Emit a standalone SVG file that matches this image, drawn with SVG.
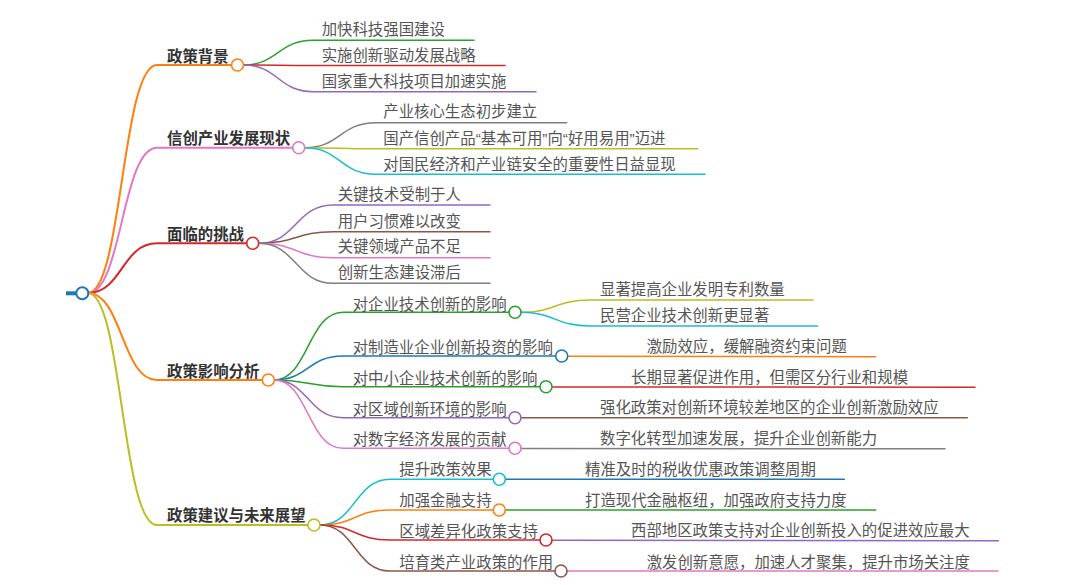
<svg xmlns="http://www.w3.org/2000/svg" width="1080" height="585" viewBox="0 0 1080 585">
<style>
.c{fill:none;stroke-linecap:round}
.l1{stroke-width:2}
.l2{stroke-width:1.5}
.n{fill:#fff;stroke-width:1.6}
.t1{font-family:"Liberation Sans","Noto Sans CJK SC",sans-serif;font-size:15.4px;font-weight:bold;fill:#333}
.t2{font-family:"Liberation Sans","Noto Sans CJK SC",sans-serif;font-size:15.4px;fill:#555}
</style>
<rect width="1080" height="585" fill="#fff"/>
<g id="connectors">
<path class="c l1" stroke="#ff7f0e" d="M88,293 C122,293 122,65 157,65 L231.5,65"/>
<path class="c l1" stroke="#e377c2" d="M88,293 C122,293 122,147.7 157,147.7 L292.7,147.7"/>
<path class="c l1" stroke="#d62728" d="M88,293 C122,293 122,243.3 157,243.3 L246.7,243.3"/>
<path class="c l1" stroke="#ff7f0e" d="M88,293 C122,293 122,380 157,380 L262.3,380"/>
<path class="c l1" stroke="#bcbd22" d="M88,293 C122,293 122,525 157,525 L308,525"/>
<path class="c l2" stroke="#2ca02c" d="M243.5,65 C278,65 278,40.3 313,40.3 L474,40.3"/>
<path class="c l2" stroke="#d62728" d="M243.5,65 C278,65 278,65.5 313,65.5 L505,65.5"/>
<path class="c l2" stroke="#9467bd" d="M243.5,65 C278,65 278,91.7 313,91.7 L536,91.7"/>
<path class="c l2" stroke="#7f7f7f" d="M304.7,147.7 C340,147.7 340,122.7 376,122.7 L566.7,122.7"/>
<path class="c l2" stroke="#bcbd22" d="M304.7,147.7 C340,147.7 340,148.7 376,148.7 L697.7,148.7"/>
<path class="c l2" stroke="#17becf" d="M304.7,147.7 C340,147.7 340,174.3 376,174.3 L705,174.3"/>
<path class="c l2" stroke="#9467bd" d="M258.7,243.3 C296,243.3 296,205 333,205 L490,205"/>
<path class="c l2" stroke="#8c564b" d="M258.7,243.3 C296,243.3 296,231.7 333,231.7 L490,231.7"/>
<path class="c l2" stroke="#e377c2" d="M258.7,243.3 C296,243.3 296,257.7 333,257.7 L490,257.7"/>
<path class="c l2" stroke="#7f7f7f" d="M258.7,243.3 C296,243.3 296,283.3 333,283.3 L490,283.3"/>
<path class="c l2" stroke="#2ca02c" d="M274.3,380 C308,380 308,312.3 343,312.3 L509,312.3"/>
<path class="c l2" stroke="#1f77b4" d="M274.3,380 C308,380 308,356 343,356 L555.7,356"/>
<path class="c l2" stroke="#2ca02c" d="M274.3,380 C308,380 308,386.7 343,386.7 L540,386.7"/>
<path class="c l2" stroke="#9467bd" d="M274.3,380 C308,380 308,417.7 343,417.7 L509,417.7"/>
<path class="c l2" stroke="#e377c2" d="M274.3,380 C308,380 308,448.3 343,448.3 L509,448.3"/>
<path class="c l2" stroke="#17becf" d="M320,525 C355,525 355,479.3 390,479.3 L493.3,479.3"/>
<path class="c l2" stroke="#ff7f0e" d="M320,525 C355,525 355,510 390,510 L493.3,510"/>
<path class="c l2" stroke="#d62728" d="M320,525 C355,525 355,540 390,540 L540,540"/>
<path class="c l2" stroke="#8c564b" d="M320,525 C355,525 355,571 390,571 L555,571"/>
<path class="c l2" stroke="#bcbd22" d="M521,312.3 C555,312.3 555,300 590,300 L813,300"/>
<path class="c l2" stroke="#17becf" d="M521,312.3 C555,312.3 555,326 590,326 L817.7,326"/>
<path class="c l2" stroke="#ff7f0e" d="M567.7,356.3 L875.7,356.7"/>
<path class="c l2" stroke="#d62728" d="M552,386.9 L975,387.3"/>
<path class="c l2" stroke="#8c564b" d="M521,417.7 L967.3,417.7"/>
<path class="c l2" stroke="#7f7f7f" d="M521,448.5 L945,448.8"/>
<path class="c l2" stroke="#1f77b4" d="M505.3,479.3 L844.3,479.3"/>
<path class="c l2" stroke="#2ca02c" d="M505.3,510 L875.7,510"/>
<path class="c l2" stroke="#9467bd" d="M552,540.3 L998.3,540.8"/>
<path class="c l2" stroke="#e377c2" d="M567,571 L998,571"/>
</g>
<g id="root">
<line x1="66" y1="293.3" x2="77" y2="293.3" stroke="#1f77b4" stroke-width="4"/>
<circle cx="82.3" cy="293.3" r="6" fill="#fff" stroke="#1f77b4" stroke-width="2"/>
</g>
<g id="n1"><text class="t1" x="167" y="61.5">政策背景</text><circle class="n" cx="237.5" cy="65" r="6" stroke="#ff7f0e"/></g>
<g id="n1-1"><text class="t2" x="321.7" y="34.5">加快科技强国建设</text></g>
<g id="n1-2"><text class="t2" x="321.7" y="61.2">实施创新驱动发展战略</text></g>
<g id="n1-3"><text class="t2" x="321.7" y="87">国家重大科技项目加速实施</text></g>
<g id="n2"><text class="t1" x="167" y="144">信创产业发展现状</text><circle class="n" cx="298.7" cy="147.7" r="6" stroke="#e377c2"/></g>
<g id="n2-1"><text class="t2" x="383.3" y="117">产业核心生态初步建立</text></g>
<g id="n2-2"><text class="t2" x="383.3" y="143.5">国产信创产品“基本可用”向“好用易用”迈进</text></g>
<g id="n2-3"><text class="t2" x="383.3" y="169.5">对国民经济和产业链安全的重要性日益显现</text></g>
<g id="n3"><text class="t1" x="167" y="239.5">面临的挑战</text><circle class="n" cx="252.7" cy="243.3" r="6" stroke="#d62728"/></g>
<g id="n3-1"><text class="t2" x="337.7" y="200">关键技术受制于人</text></g>
<g id="n3-2"><text class="t2" x="337.7" y="227">用户习惯难以改变</text></g>
<g id="n3-3"><text class="t2" x="337.7" y="252">关键领域产品不足</text></g>
<g id="n3-4"><text class="t2" x="337.7" y="277.5">创新生态建设滞后</text></g>
<g id="n4"><text class="t1" x="167" y="377">政策影响分析</text><circle class="n" cx="268.3" cy="380" r="6" stroke="#ff7f0e"/></g>
<g id="n4-1"><text class="t2" x="352.7" y="309.5">对企业技术创新的影响</text><circle class="n" cx="515" cy="312.3" r="6" stroke="#2ca02c"/></g>
<g id="n4-1-1"><text class="t2" x="600" y="294.5">显著提高企业发明专利数量</text></g>
<g id="n4-1-2"><text class="t2" x="600" y="321">民营企业技术创新更显著</text></g>
<g id="n4-2"><text class="t2" x="352.7" y="353">对制造业企业创新投资的影响</text><circle class="n" cx="561.7" cy="356" r="6" stroke="#1f77b4"/></g>
<g id="n4-2-1"><text class="t2" x="646.7" y="352">激励效应，缓解融资约束问题</text></g>
<g id="n4-3"><text class="t2" x="352.7" y="383.5">对中小企业技术创新的影响</text><circle class="n" cx="546" cy="386.7" r="6" stroke="#2ca02c"/></g>
<g id="n4-3-1"><text class="t2" x="631" y="382.5">长期显著促进作用，但需区分行业和规模</text></g>
<g id="n4-4"><text class="t2" x="352.7" y="414.5">对区域创新环境的影响</text><circle class="n" cx="515" cy="417.7" r="6" stroke="#9467bd"/></g>
<g id="n4-4-1"><text class="t2" x="600" y="413">强化政策对创新环境较差地区的企业创新激励效应</text></g>
<g id="n4-5"><text class="t2" x="352.7" y="445">对数字经济发展的贡献</text><circle class="n" cx="515" cy="448.3" r="6" stroke="#e377c2"/></g>
<g id="n4-5-1"><text class="t2" x="600" y="443.5">数字化转型加速发展，提升企业创新能力</text></g>
<g id="n5"><text class="t1" x="167" y="521">政策建议与未来展望</text><circle class="n" cx="314" cy="525" r="6" stroke="#bcbd22"/></g>
<g id="n5-1"><text class="t2" x="399.3" y="475">提升政策效果</text><circle class="n" cx="499.3" cy="479.3" r="6" stroke="#17becf"/></g>
<g id="n5-1-1"><text class="t2" x="585" y="474.5">精准及时的税收优惠政策调整周期</text></g>
<g id="n5-2"><text class="t2" x="399.3" y="506">加强金融支持</text><circle class="n" cx="499.3" cy="510" r="6" stroke="#ff7f0e"/></g>
<g id="n5-2-1"><text class="t2" x="585" y="506">打造现代金融枢纽，加强政府支持力度</text></g>
<g id="n5-3"><text class="t2" x="399.3" y="537">区域差异化政策支持</text><circle class="n" cx="546" cy="540" r="6" stroke="#d62728"/></g>
<g id="n5-3-1"><text class="t2" x="631" y="536">西部地区政策支持对企业创新投入的促进效应最大</text></g>
<g id="n5-4"><text class="t2" x="399.3" y="567.5">培育类产业政策的作用</text><circle class="n" cx="561" cy="571" r="6" stroke="#8c564b"/></g>
<g id="n5-4-1"><text class="t2" x="646.7" y="567.5">激发创新意愿，加速人才聚集，提升市场关注度</text></g>
</svg>
